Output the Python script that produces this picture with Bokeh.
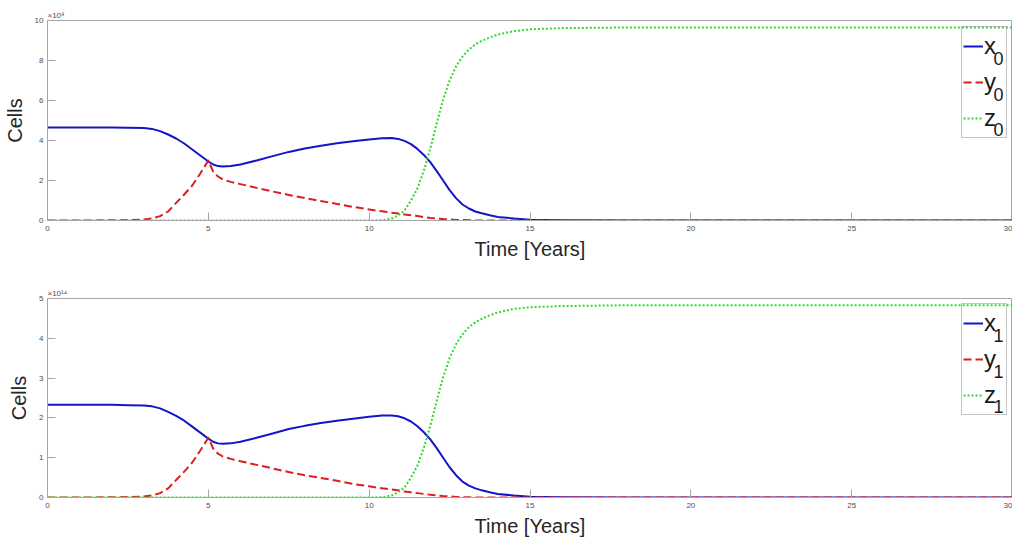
from bokeh.plotting import figure
from bokeh.models import Range1d, FixedTicker, Legend, LegendItem, Label
from bokeh.layouts import column
from bokeh.embed import file_html
from bokeh.resources import INLINE

# time points (years)
t = [0, 1, 2, 2.5, 3, 3.25, 3.5, 3.75, 4, 4.25, 4.5, 4.75, 5, 5.15, 5.3, 5.45, 5.7,
     6, 6.5, 7, 7.5, 8, 8.5, 9, 9.5, 10, 10.4, 10.7, 10.9, 11.1, 11.3, 11.5, 11.7,
     11.9, 12.1, 12.3, 12.5, 12.7, 12.9, 13.1, 13.3, 13.5, 13.75, 14, 14.5, 15, 16,
     18, 20, 25, 30]

# top panel (units of 1e8 cells)
x0 = [4.65, 4.65, 4.65, 4.64, 4.62, 4.58, 4.47, 4.3, 4.1, 3.85, 3.55, 3.25, 2.95,
      2.8, 2.72, 2.7, 2.72, 2.8, 3.0, 3.22, 3.43, 3.6, 3.74, 3.86, 3.96, 4.05, 4.11,
      4.12, 4.08, 3.98, 3.82, 3.58, 3.28, 2.92, 2.47, 2.0, 1.52, 1.12, 0.8, 0.6,
      0.45, 0.36, 0.26, 0.18, 0.1, 0.04, 0.01, 0.0, 0.0, 0.0, 0.0]
y0 = [0.0, 0.0, 0.01, 0.02, 0.05, 0.1, 0.22, 0.45, 0.88, 1.3, 1.75, 2.35, 3.0,
      2.45, 2.2, 2.05, 1.93, 1.82, 1.63, 1.45, 1.28, 1.12, 0.97, 0.83, 0.68, 0.55,
      0.46, 0.39, 0.35, 0.3, 0.26, 0.22, 0.17, 0.13, 0.1, 0.07, 0.05, 0.03, 0.02,
      0.01, 0.0, 0.0, 0.0, 0.0, 0.0, 0.0, 0.0, 0.0, 0.0, 0.0, 0.0]
z0 = [0.0, 0.0, 0.0, 0.0, 0.0, 0.0, 0.0, 0.0, 0.0, 0.0, 0.0, 0.0, 0.0, 0.0, 0.0,
      0.0, 0.0, 0.0, 0.0, 0.0, 0.0, 0.0, 0.0, 0.0, 0.0, 0.0, 0.01, 0.1, 0.25, 0.5,
      1.0, 1.6, 2.5, 3.6, 4.85, 6.05, 7.0, 7.7, 8.2, 8.55, 8.8, 8.98, 9.15, 9.3,
      9.47, 9.56, 9.62, 9.65, 9.65, 9.65, 9.65]

# bottom panel (units of 1e14 cells)
x1 = [2.33, 2.33, 2.33, 2.32, 2.31, 2.29, 2.24, 2.15, 2.05, 1.93, 1.78, 1.63, 1.48,
      1.4, 1.36, 1.35, 1.36, 1.4, 1.5, 1.61, 1.72, 1.8, 1.87, 1.93, 1.98, 2.03, 2.06,
      2.06, 2.04, 1.99, 1.91, 1.79, 1.64, 1.46, 1.24, 1.0, 0.76, 0.56, 0.4, 0.3,
      0.23, 0.18, 0.13, 0.09, 0.05, 0.02, 0.005, 0.0, 0.0, 0.0, 0.0]
y1 = [0.0, 0.0, 0.005, 0.01, 0.025, 0.05, 0.11, 0.23, 0.44, 0.65, 0.88, 1.18, 1.5,
      1.23, 1.1, 1.03, 0.97, 0.91, 0.82, 0.73, 0.64, 0.56, 0.49, 0.42, 0.34, 0.28,
      0.23, 0.2, 0.18, 0.15, 0.13, 0.11, 0.09, 0.07, 0.05, 0.035, 0.025, 0.015,
      0.01, 0.005, 0.0, 0.0, 0.0, 0.0, 0.0, 0.0, 0.0, 0.0, 0.0, 0.0, 0.0]
z1 = [0.0, 0.0, 0.0, 0.0, 0.0, 0.0, 0.0, 0.0, 0.0, 0.0, 0.0, 0.0, 0.0, 0.0, 0.0,
      0.0, 0.0, 0.0, 0.0, 0.0, 0.0, 0.0, 0.0, 0.0, 0.0, 0.0, 0.005, 0.05, 0.13, 0.25,
      0.5, 0.8, 1.25, 1.8, 2.43, 3.03, 3.5, 3.85, 4.1, 4.28, 4.4, 4.49, 4.58, 4.65,
      4.74, 4.78, 4.81, 4.83, 4.83, 4.83, 4.83]

x_ticks = [0, 5, 10, 15, 20, 25, 30]
top_yticks = [0, 2, 4, 6, 8, 10]
bot_yticks = [0, 1, 2, 3, 4, 5]
legend_names = ["x", "y", "z"]
top_sub = "0"
bot_sub = "1"

FONT = "Liberation Sans"
AX = "#a6a6a6"
TICKC = "#4d4d4d"
BLUE = "#1414c8"
RED = "#dc1e1e"
GREEN = "#2ed82e"


def make_panel(xs, ys, zs, yticks, ymax, sub, expo, height, bottom_border):
    p = figure(width=1012, height=height, output_backend="svg", toolbar_location=None,
               x_range=Range1d(0, 30), y_range=Range1d(0, ymax),
               min_border_left=46, min_border_right=0, min_border_top=20,
               min_border_bottom=bottom_border)
    p.background_fill_color = "white"
    p.border_fill_color = "white"
    p.outline_line_color = AX
    p.xgrid.visible = False
    p.ygrid.visible = False

    p.title.text = expo
    p.title.text_font = FONT
    p.title.text_font_size = "8px"
    p.title.text_font_style = "normal"
    p.title.text_color = TICKC
    p.title.align = "left"
    p.title.standoff = 2

    for ax in (p.xaxis[0], p.yaxis[0]):
        ax.axis_line_color = AX
        ax.major_tick_line_color = AX
        ax.major_tick_in = 8
        ax.major_tick_out = 0
        ax.minor_tick_line_color = None
        ax.major_label_text_font = FONT
        ax.major_label_text_font_size = "8px"
        ax.major_label_text_color = TICKC
        ax.axis_label_text_font = FONT
        ax.axis_label_text_font_size = "20px"
        ax.axis_label_text_font_style = "normal"
        ax.axis_label_text_color = "#262626"
    p.xaxis[0].ticker = FixedTicker(ticks=x_ticks)
    p.yaxis[0].ticker = FixedTicker(ticks=yticks)
    p.xaxis[0].axis_label = "Time [Years]"
    p.yaxis[0].axis_label = "Cells"
    p.xaxis[0].major_label_standoff = 5
    p.xaxis[0].axis_label_standoff = 4
    p.yaxis[0].major_label_standoff = 4
    p.yaxis[0].axis_label_standoff = 6

    r1 = p.line(t, xs, line_color=BLUE, line_width=2, line_join="round")
    r2 = p.line(t, ys, line_color=RED, line_width=2, line_dash="8 4", line_join="round")
    r3 = p.line(t, zs, line_color=GREEN, line_width=2, line_dash="2 2", line_join="round")

    # subscripts of the legend labels (legend box is transparent so they show through)
    for yy in (162, 126, 91):
        p.add_layout(Label(x=946, y=yy, x_units="screen", y_units="screen", text=sub,
                           text_baseline="alphabetic", text_align="left",
                           text_font=FONT, text_font_size="18px", text_color="#1a1a1a"))

    legend = Legend(items=[LegendItem(label=legend_names[0], renderers=[r1]),
                           LegendItem(label=legend_names[1], renderers=[r2]),
                           LegendItem(label=legend_names[2], renderers=[r3])],
                    location=(914, 82))
    legend.label_text_font = FONT
    legend.label_text_font_size = "24px"
    legend.label_text_color = "#1a1a1a"
    legend.glyph_width = 20
    legend.glyph_height = 36
    legend.label_height = 36
    legend.label_width = 21
    legend.label_standoff = 1
    legend.spacing = 0
    legend.padding = 1
    legend.margin = 0
    legend.border_line_color = "#8c8c8c"
    legend.border_line_width = 1
    legend.background_fill_alpha = 0
    p.add_layout(legend)
    return p


p1 = make_panel(x0, y0, z0, top_yticks, 10, top_sub, "×10⁸", 278, 58)
p2 = make_panel(x1, y1, z1, bot_yticks, 5, bot_sub, "×10¹⁴", 263, 44)

layout = column(p1, p2, spacing=0)
open("out.html", "w").write(file_html(layout, INLINE))
